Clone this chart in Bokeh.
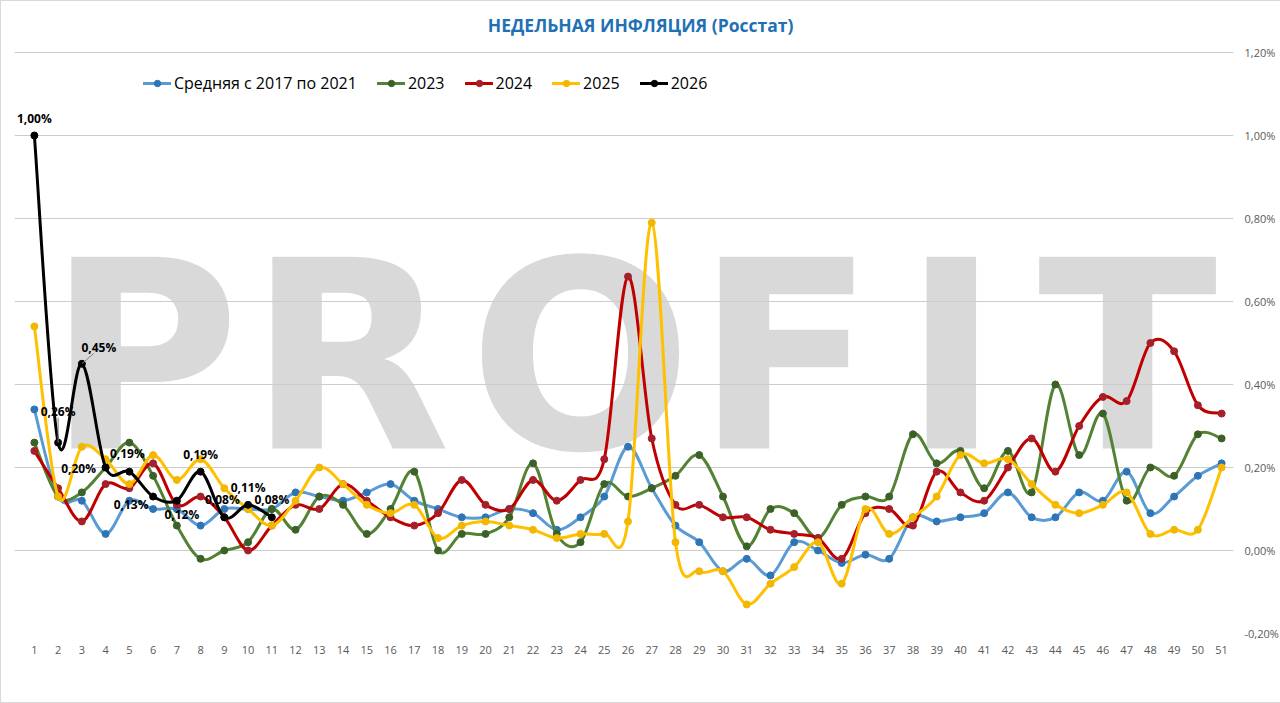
from bokeh.plotting import figure
from bokeh.models import (Range1d, FixedTicker, Legend, LegendItem,
                          CustomJSTickFormatter)
from bokeh.core.properties import value
from bokeh.embed import file_html
from bokeh.resources import INLINE

# ---------------- data ----------------
weeks = list(range(1, 52))
avg_2017_2021 = [0.34, 0.13, 0.12, 0.04, 0.12, 0.10, 0.10, 0.06, 0.10, 0.10,
                 0.10, 0.14, 0.13, 0.12, 0.14, 0.16, 0.12, 0.10, 0.08, 0.08,
                 0.10, 0.09, 0.05, 0.08, 0.13, 0.25, 0.15, 0.06, 0.02, -0.05,
                 -0.02, -0.06, 0.02, 0.00, -0.03, -0.01, -0.02, 0.08, 0.07, 0.08,
                 0.09, 0.14, 0.08, 0.08, 0.14, 0.12, 0.19, 0.09, 0.13, 0.18, 0.21]
y2023 = [0.26, 0.13, 0.14, 0.20, 0.26, 0.18, 0.06, -0.02, 0.00, 0.02,
         0.10, 0.05, 0.13, 0.11, 0.04, 0.10, 0.19, 0.00, 0.04, 0.04,
         0.08, 0.21, 0.04, 0.02, 0.16, 0.13, 0.15, 0.18, 0.23, 0.13,
         0.01, 0.10, 0.09, 0.03, 0.11, 0.13, 0.13, 0.28, 0.21, 0.24,
         0.15, 0.24, 0.14, 0.40, 0.23, 0.33, 0.12, 0.20, 0.18, 0.28, 0.27]
y2024 = [0.24, 0.15, 0.07, 0.16, 0.15, 0.21, 0.11, 0.13, 0.08, 0.00,
         0.06, 0.11, 0.10, 0.16, 0.12, 0.08, 0.06, 0.09, 0.17, 0.11,
         0.10, 0.17, 0.12, 0.17, 0.22, 0.66, 0.27, 0.11, 0.11, 0.08,
         0.08, 0.05, 0.04, 0.03, -0.02, 0.09, 0.10, 0.06, 0.19, 0.14,
         0.12, 0.20, 0.27, 0.19, 0.30, 0.37, 0.36, 0.50, 0.48, 0.35, 0.33]
y2025 = [0.54, 0.13, 0.25, 0.22, 0.16, 0.23, 0.17, 0.22, 0.15, 0.10,
         0.06, 0.12, 0.20, 0.16, 0.11, 0.09, 0.11, 0.03, 0.06, 0.07,
         0.06, 0.05, 0.03, 0.04, 0.04, 0.07, 0.79, 0.02, -0.05, -0.05,
         -0.13, -0.08, -0.04, 0.02, -0.08, 0.10, 0.04, 0.08, 0.13, 0.23,
         0.21, 0.22, 0.16, 0.11, 0.09, 0.11, 0.14, 0.04, 0.05, 0.05, 0.20]
weeks_2026 = list(range(1, 12))
y2026 = [1.00, 0.26, 0.45, 0.20, 0.19, 0.13, 0.12, 0.19, 0.08, 0.11, 0.08]

series_names = ["Средняя с 2017 по 2021", "2023", "2024", "2025", "2026"]
y_ticks = [-0.2, 0.0, 0.2, 0.4, 0.6, 0.8, 1.0, 1.2]
y_tick_labels = ["-0,20%", "0,00%", "0,20%", "0,40%", "0,60%", "0,80%", "1,00%", "1,20%"]
title_text = "НЕДЕЛЬНАЯ ИНФЛЯЦИЯ (Росстат)"
watermark_letters = ["P", "R", "O", "F", "I", "T"]

# ---------------- styles ----------------
line_colors = ["#5B9BD5", "#548235", "#C00000", "#FFC000", "#000000"]
marker_colors = ["#2E75B6", "#3B6128", "#A5202A", "#F2B700", "#000000"]
FONT = "Open Sans"
wm_x = [5.60, 14.27, 24.00, 32.63, 39.62, 47.04]   # watermark letter centres (decoration)
wm_anchor = 0.465
label_dx = [0, 0, 17, -27, -2, -22, 5, 0, -2, 0, 0]
label_dy = [-17, -31, -16, 1, -18, 8, 14, -17, -18, -17, -18]

PX_PER_UNIT = 581 / 1.4          # vertical scale of the value axis
TOP_PAD = 51                     # title area above the 1.2 line, px
y_top = 1.2 + TOP_PAD / PX_PER_UNIT
title_pos = (26.53, 1.2 + 28 / PX_PER_UNIT)

p = figure(frame_width=1219, frame_height=581 + TOP_PAD,
           x_range=Range1d(0.163, 51.5), y_range=Range1d(-0.2, y_top),
           output_backend="svg", toolbar_location=None,
           y_axis_location="right",
           min_border_left=13, min_border_right=46,
           min_border_top=0, min_border_bottom=69)
p.outline_line_color = None
p.background_fill_color = "white"
p.border_fill_color = "white"
p.styles = {"border": "1px solid #d9d9d9"}

# axes
p.xaxis.ticker = FixedTicker(ticks=weeks)
p.yaxis.ticker = FixedTicker(ticks=y_ticks)
p.yaxis.formatter = CustomJSTickFormatter(
    args=dict(tv=y_ticks, tl=y_tick_labels),
    code="""
    let best = 0, d = 1e9;
    for (let i = 0; i < tv.length; i++) {
        const dd = Math.abs(tv[i] - tick);
        if (dd < d) { d = dd; best = i; }
    }
    return tl[best];
    """)
for ax in (p.xaxis, p.yaxis):
    ax.axis_line_color = None
    ax.major_tick_line_color = None
    ax.minor_tick_line_color = None
    ax.major_tick_out = 0
    ax.major_tick_in = 0
    ax.major_label_text_font = FONT
    ax.major_label_text_font_size = "11px"
    ax.major_label_text_color = "#595959"
p.xaxis.major_label_standoff = 12
p.yaxis.major_label_standoff = 11

p.xgrid.visible = False
p.ygrid.ticker = FixedTicker(ticks=y_ticks)
p.ygrid.grid_line_color = "#cccccc"
p.ygrid.grid_line_width = 1

# watermark
p.text(x=wm_x, y=[wm_anchor] * len(wm_x), text=watermark_letters,
       text_font=value("DejaVu Sans"), text_font_style="bold",
       text_font_size="263px", text_color="#d9d9d9",
       text_align="center", text_baseline="alphabetic", level="image")

# title
p.text(x=[title_pos[0]], y=[title_pos[1]], text=[title_text],
       text_font=value(FONT), text_font_style="bold", text_font_size="17.5px",
       text_color="#1F70B5", text_align="center", text_baseline="middle")


def smooth(xs, ys):
    n = len(xs)
    x0, y0, x1, y1, cx0, cy0, cx1, cy1 = ([] for _ in range(8))
    for i in range(n - 1):
        im1 = max(i - 1, 0)
        ip2 = min(i + 2, n - 1)
        x0.append(xs[i]); y0.append(ys[i])
        x1.append(xs[i + 1]); y1.append(ys[i + 1])
        cx0.append(xs[i] + (xs[i + 1] - xs[im1]) / 6.0)
        cy0.append(ys[i] + (ys[i + 1] - ys[im1]) / 6.0)
        cx1.append(xs[i + 1] - (xs[ip2] - xs[i]) / 6.0)
        cy1.append(ys[i + 1] - (ys[ip2] - ys[i]) / 6.0)
    return dict(x0=x0, y0=y0, x1=x1, y1=y1, cx0=cx0, cy0=cy0, cx1=cx1, cy1=cy1)


all_series = [(weeks, avg_2017_2021), (weeks, y2023), (weeks, y2024),
              (weeks, y2025), (weeks_2026, y2026)]
items = []
for (xs, ys), name, lc, mc in zip(all_series, series_names, line_colors, marker_colors):
    br = p.bezier(line_color=lc, line_width=3, line_cap="round", **smooth(xs, ys))
    sr = p.scatter(xs, ys, size=7, fill_color=mc, line_color=mc)
    items.append(LegendItem(label=name, renderers=[br, sr]))

# data labels for 2026
lab_text = [("%.2f%%" % v).replace(".", ",") for v in y2026]
p.segment(x0=[weeks_2026[1], weeks_2026[2]], y0=[y2026[1], y2026[2]],
          x1=[weeks_2026[1], weeks_2026[2] + 0.5], y1=[y2026[1] + 0.06, y2026[2] + 0.025],
          line_color="#7f7f7f", line_width=1)
p.text(x=weeks_2026, y=y2026, text=lab_text, x_offset=label_dx, y_offset=label_dy,
       text_font=value(FONT), text_font_style="bold", text_font_size="12px",
       text_color="#000000", text_align="center", text_baseline="middle")

legend = Legend(items=items, orientation="horizontal", location=(129, 539),
                background_fill_alpha=0, border_line_color=None,
                label_text_font=FONT, label_text_font_size="16px",
                label_text_color="#000000",
                glyph_width=28, glyph_height=16, label_height=16,
                label_standoff=3, spacing=20, padding=0, margin=0)
p.add_layout(legend)

open("out.html", "w").write(file_html(p, INLINE))
